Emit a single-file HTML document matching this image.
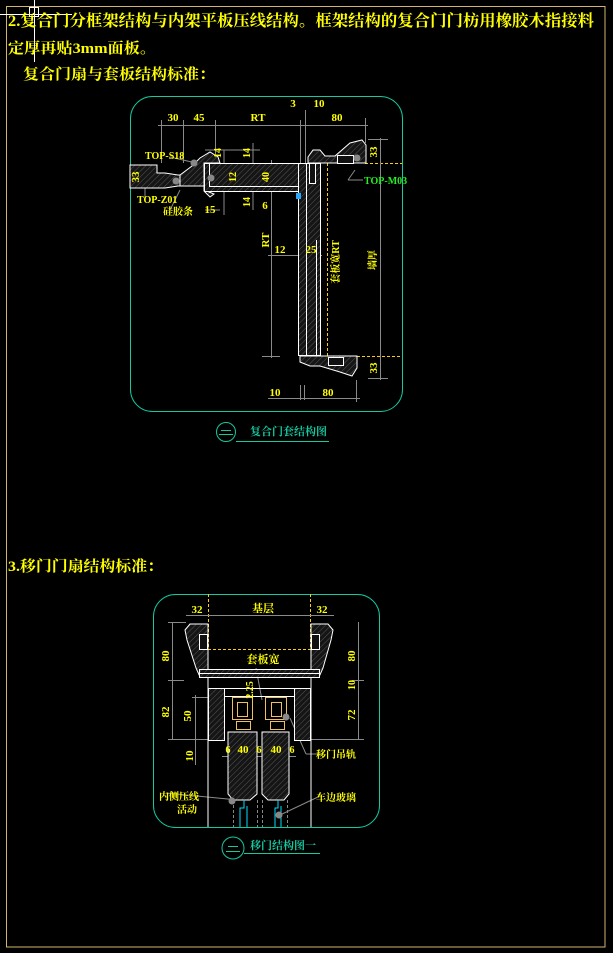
<!DOCTYPE html>
<html><head><meta charset="utf-8"><style>
html,body{margin:0;padding:0;background:#000;}
svg{display:block}
text{font-family:"Liberation Serif","Noto Serif CJK SC","Noto Sans CJK SC",serif;font-weight:bold;}
</style></head><body>
<svg width="613" height="953" viewBox="0 0 613 953" xmlns="http://www.w3.org/2000/svg">
<defs>
<pattern id="h" width="4" height="4" patternUnits="userSpaceOnUse" patternTransform="rotate(45)">
<rect width="4" height="4" fill="#151515"/><line x1="0" y1="0" x2="0" y2="4" stroke="#555" stroke-width="1"/>
</pattern>
</defs>
<rect x="0" y="0" width="613" height="953" fill="#000"/>
<rect x="6.5" y="6.5" width="598.5" height="940.5" fill="none" stroke="#d2b66c" stroke-width="1"/>
<g stroke="#fff" stroke-width="1">
<line x1="0" y1="14.5" x2="72" y2="14.5"/><line x1="34.5" y1="0" x2="34.5" y2="62"/>
<rect x="29.5" y="7.5" width="9" height="9" fill="none"/>
</g>
<g fill="#ffff00" font-size="15">
<text x="8" y="26" textLength="586" lengthAdjust="spacingAndGlyphs" font-size="16">2.复合门分框架结构与内架平板压线结构。框架结构的复合门门枋用橡胶木指接料</text>
<text x="8" y="53" textLength="148" lengthAdjust="spacingAndGlyphs">定厚再贴3mm面板。</text>
<text x="23" y="79" textLength="192" lengthAdjust="spacingAndGlyphs">复合门扇与套板结构标准：</text>
<text x="8" y="571" textLength="155" lengthAdjust="spacingAndGlyphs">3.移门门扇结构标准：</text>
</g>

<!-- TOP DIAGRAM -->
<rect x="130.5" y="96.5" width="272" height="315" rx="22" fill="none" stroke="#14c8a0" stroke-width="1"/>
<g stroke="#ffd000" stroke-width="1" stroke-dasharray="3,2" fill="none">
<line x1="327.5" y1="163" x2="327.5" y2="356"/>
<line x1="365" y1="163.5" x2="402" y2="163.5"/>
<line x1="327" y1="356.5" x2="402" y2="356.5"/>
</g>
<g stroke="#8a8a8a" stroke-width="1" fill="none">
<line x1="158" y1="125.5" x2="368" y2="125.5"/>
<line x1="161.5" y1="120" x2="161.5" y2="163"/><line x1="183.5" y1="120" x2="183.5" y2="163"/>
<line x1="215.5" y1="120" x2="215.5" y2="163"/><line x1="300.5" y1="120" x2="300.5" y2="163"/>
<line x1="305.5" y1="110" x2="305.5" y2="163"/><line x1="365.5" y1="118" x2="365.5" y2="143"/>
<line x1="271.5" y1="160" x2="271.5" y2="358"/>
<line x1="262" y1="356.5" x2="280" y2="356.5"/>
<line x1="380.5" y1="138" x2="380.5" y2="380"/>
<line x1="368" y1="139.5" x2="388" y2="139.5"/><line x1="368" y1="378.5" x2="388" y2="378.5"/>
<line x1="268" y1="255.5" x2="322" y2="255.5"/>
<line x1="268" y1="398.5" x2="360" y2="398.5"/>
<line x1="300.5" y1="385" x2="300.5" y2="400"/><line x1="304.5" y1="385" x2="304.5" y2="400"/><line x1="356.5" y1="380" x2="356.5" y2="402"/>
<line x1="253" y1="143" x2="253" y2="210"/><line x1="224" y1="150" x2="224" y2="215"/>
<line x1="205" y1="150" x2="260" y2="150"/>
<line x1="205" y1="210" x2="220" y2="210"/>
<line x1="170" y1="157" x2="196" y2="163"/><line x1="145" y1="200" x2="145" y2="185"/><line x1="170" y1="210" x2="180" y2="190"/>
<line x1="355" y1="170" x2="348" y2="180"/><line x1="348" y1="180" x2="363" y2="180"/>
</g>
<g stroke="#fff" stroke-width="1" fill="url(#h)">
<path d="M130 165 H157 V173 H165 L178 175 H204 V186 H178 L165 188 H157 V188 H130 Z"/>
<path d="M180 175 L192 166 L200 158 L210 152 L218 157 L220 163 H204 V191 L210 197 L214 194 L204 190 V186 L180 186 Z"/>
<rect x="204.5" y="163.5" width="95" height="28"/>
<rect x="209.5" y="163.5" width="90" height="23"/>
<path d="M308 163 V157 L313 150 H320 L325 156 H335 L350 143 L362 140 L366 145 V163 Z"/>
<rect x="337.5" y="155.5" width="16" height="8" fill="#111"/>
<rect x="298.5" y="163.5" width="8" height="192"/>
<rect x="306.5" y="163.5" width="14" height="192"/>
<rect x="309.5" y="163.5" width="6" height="20" fill="#111"/>
<path d="M300 356 H357 V368 L352 376 L340 372 L320 366 L310 366 L300 362 Z"/>
<rect x="328.5" y="357.5" width="15" height="8" fill="#111"/>
</g>
<line x1="316.5" y1="240" x2="316.5" y2="356" stroke="#fff"/>
<rect x="296" y="193" width="5" height="6" fill="#2aa8ff"/>
<g fill="#888"><circle cx="194" cy="163" r="3.5"/><circle cx="176" cy="181" r="3.5"/><circle cx="211" cy="178" r="3.5"/><circle cx="357" cy="158" r="3.5"/></g>
<g fill="#ffff00" font-size="11" text-anchor="middle">
<text x="173" y="121">30</text><text x="199" y="121">45</text><text x="258" y="121">RT</text>
<text x="293" y="107">3</text><text x="319" y="107">10</text><text x="337" y="121">80</text>
<text x="275" y="396">10</text><text x="328" y="396">80</text>
<text x="280" y="253">12</text><text x="311" y="253">25</text>
<text x="210" y="213">15</text><text x="265" y="209">6</text>
</g>
<g fill="#ffff00" font-size="10">
<text x="145" y="159">TOP-S18</text><text x="137" y="203">TOP-Z01</text><text x="163" y="215">硅胶条</text>
</g>
<text x="364" y="184" fill="#22ee22" font-size="10">TOP-M03</text>
<g fill="#ffff00" font-size="11" text-anchor="middle">
<text transform="translate(269,240) rotate(-90)">RT</text>
<text transform="translate(339,262) rotate(-90)" font-size="10">套板宽RT</text>
<text transform="translate(376,260) rotate(-90)" font-size="10">墙厚</text>
<text transform="translate(377,152) rotate(-90)">33</text>
<text transform="translate(377,368) rotate(-90)">33</text>
<text transform="translate(139,177) rotate(-90)">33</text>
<text transform="translate(221,153) rotate(-90)" font-size="10">14</text>
<text transform="translate(250,153) rotate(-90)" font-size="10">14</text>
<text transform="translate(236,177) rotate(-90)" font-size="10">12</text>
<text transform="translate(269,177) rotate(-90)" font-size="10">40</text>
<text transform="translate(250,202) rotate(-90)" font-size="10">14</text>
</g>
<circle cx="226" cy="432" r="9.5" fill="none" stroke="#14c8a0"/>
<line x1="221" y1="430.5" x2="231" y2="430.5" stroke="#14c8a0"/><line x1="219" y1="434.5" x2="233" y2="434.5" stroke="#14c8a0"/>
<text x="250" y="435" fill="#14c8a0" font-size="11">复合门套结构图</text>
<line x1="236" y1="441.5" x2="329" y2="441.5" stroke="#14c8a0"/>

<!-- BOTTOM DIAGRAM -->
<rect x="153.5" y="594.5" width="226" height="233" rx="22" fill="none" stroke="#14c8a0"/>
<g stroke="#ffd000" stroke-dasharray="3,2" fill="none">
<line x1="208.5" y1="594" x2="208.5" y2="649"/><line x1="310.5" y1="594" x2="310.5" y2="649"/>
<line x1="208" y1="649.5" x2="311" y2="649.5"/>
</g>
<g stroke="#8a8a8a" fill="none">
<line x1="186" y1="615.5" x2="334" y2="615.5"/>
<line x1="172.5" y1="622" x2="172.5" y2="740"/><line x1="168" y1="622.5" x2="186" y2="622.5"/><line x1="168" y1="680.5" x2="184" y2="680.5"/><line x1="168" y1="739.5" x2="208" y2="739.5"/>
<line x1="195.5" y1="695" x2="195.5" y2="765"/><line x1="192" y1="697.5" x2="222" y2="697.5"/>
<line x1="358.5" y1="622" x2="358.5" y2="740"/><line x1="352" y1="680.5" x2="364" y2="680.5"/><line x1="311" y1="739.5" x2="364" y2="739.5"/>
<line x1="222" y1="756.5" x2="296" y2="756.5"/>
<line x1="256" y1="668" x2="262" y2="700"/>
<line x1="166" y1="793" x2="238" y2="800"/><line x1="290" y1="718" x2="306" y2="754"/><line x1="306" y1="754" x2="322" y2="754"/>
<line x1="318" y1="797" x2="280" y2="815"/>
</g>
<g stroke="#fff" fill="url(#h)">
<path d="M185 630 L190 624 H208 V677 H200 L196 668 L187 640 Z"/>
<path d="M333 630 L328 624 H311 V677 H319 L323 668 L331 640 Z"/>
<rect x="199.5" y="634.5" width="8" height="15" fill="#111"/><rect x="311.5" y="634.5" width="8" height="15" fill="#111"/>
<rect x="199.5" y="669.5" width="120" height="8"/>
<line x1="200" y1="673.5" x2="320" y2="673.5"/>
<line x1="208" y1="677" x2="208" y2="827"/><line x1="311" y1="677" x2="311" y2="827"/>
<rect x="208.5" y="688.5" width="16" height="52"/><rect x="294.5" y="688.5" width="16" height="52"/>
<rect x="224.5" y="688.5" width="70" height="8" fill="none"/>
<path d="M228 732 H257 V794 L250 800 H233 L228 794 Z"/>
<path d="M262 732 H289 V794 L284 800 H268 L262 794 Z"/>
</g>
<g stroke="#f0c060" fill="none">
<rect x="232.5" y="697.5" width="20" height="22"/><rect x="237.5" y="702.5" width="10" height="14"/>
<rect x="265.5" y="697.5" width="21" height="22"/><rect x="271.5" y="702.5" width="10" height="14"/>
<rect x="236.5" y="721.5" width="14" height="8"/><rect x="270.5" y="721.5" width="14" height="8"/>
</g>
<g stroke="#00e0ff" fill="none">
<path d="M240 827 V808 H244 V800"/><path d="M247 827 V806"/>
<path d="M275 827 V808 H278 V800"/><path d="M281 827 V806"/>
</g>
<g stroke="#888" stroke-dasharray="3,2"><line x1="233.5" y1="800" x2="233.5" y2="827"/><line x1="257.5" y1="800" x2="257.5" y2="827"/><line x1="262.5" y1="800" x2="262.5" y2="827"/><line x1="287.5" y1="800" x2="287.5" y2="827"/></g>
<g fill="#888"><circle cx="232" cy="801" r="3.5"/><circle cx="279" cy="815" r="3.5"/><circle cx="286" cy="717" r="3.5"/></g>
<g fill="#ffff00" font-size="11" text-anchor="middle">
<text x="197" y="613">32</text><text x="322" y="613">32</text><text x="263" y="612">基层</text>
<text x="263" y="663">套板宽</text>
<text x="228" y="753" font-size="10">6</text><text x="243" y="753">40</text><text x="259" y="753" font-size="10">6</text><text x="276" y="753">40</text><text x="292" y="753" font-size="10">6</text>
<text transform="translate(169,656) rotate(-90)">80</text>
<text transform="translate(169,712) rotate(-90)">82</text>
<text transform="translate(191,716) rotate(-90)">50</text>
<text transform="translate(193,756) rotate(-90)">10</text>
<text transform="translate(355,656) rotate(-90)">80</text>
<text transform="translate(355,685) rotate(-90)" font-size="10">10</text>
<text transform="translate(355,715) rotate(-90)">72</text>
<text transform="translate(253,690) rotate(-90)" font-size="10">2.25</text>
</g>
<g fill="#ffff00" font-size="10">
<text x="316" y="758">移门吊轨</text><text x="316" y="801">车边玻璃</text>
<text x="159" y="800">内侧压线</text><text x="177" y="813">活动</text>
</g>
<circle cx="233" cy="848" r="11" fill="none" stroke="#14c8a0"/>
<line x1="228" y1="846.5" x2="238" y2="846.5" stroke="#14c8a0"/><line x1="226" y1="851.5" x2="240" y2="851.5" stroke="#14c8a0"/>
<text x="250" y="849" fill="#14c8a0" font-size="11">移门结构图一</text>
<line x1="244" y1="853.5" x2="320" y2="853.5" stroke="#14c8a0"/>
</svg>
</body></html>
